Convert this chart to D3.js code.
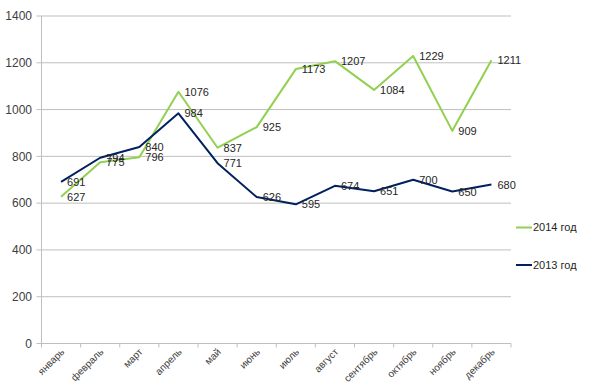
<!DOCTYPE html>
<html><head><meta charset="utf-8">
<script src="https://cdn.jsdelivr.net/npm/d3@7"></script>
<style>body{margin:0;background:#fff}svg{display:block}text{font-family:"Liberation Sans",Arial,sans-serif}</style>
</head><body>
<svg id="c" width="610" height="391"></svg>
<script>
const months = ["январь","февраль","март","апрель","май","июнь","июль","август","сентябрь","октябрь","ноябрь","декабрь"];
const series2014 = [627,775,796,1076,837,925,1173,1207,1084,1229,909,1211];
const series2013 = [691,794,840,984,771,626,595,674,651,700,650,680];
const yTicks = [0,200,400,600,800,1000,1200,1400];
const seriesNames = ["2014 год","2013 год"];
const colors = ["#92D050","#002060"];

(function(){
const svg = d3.select("#c");
const pl = 41.5, pr = 511, pt = 16, pb = 343.5;
const x = d3.scaleBand().domain(months).range([pl, pr]);
const y = d3.scaleLinear().domain([0,1400]).range([pb, pt]);

svg.append("g").selectAll("line").data(yTicks).join("line")
  .attr("x1", pl-5).attr("x2", pr).attr("y1", d=>y(d)).attr("y2", d=>y(d))
  .attr("stroke", "#BFBFBF").attr("stroke-width", 1);
svg.append("line").attr("x1", pl).attr("x2", pl).attr("y1", pt).attr("y2", pb)
  .attr("stroke", "#BFBFBF");
svg.append("g").selectAll("text").data(yTicks).join("text")
  .attr("x", 32).attr("y", d=>y(d)).attr("dy","0.35em").attr("text-anchor","end")
  .attr("font-size", 12).attr("fill","#404040").text(d=>d);
const xTickPos = months.map((m)=>x(m)).concat([pr]);
svg.append("g").selectAll("line").data(xTickPos).join("line")
  .attr("x1", d=>d).attr("x2", d=>d).attr("y1", pb).attr("y2", pb+4)
  .attr("stroke", "#BFBFBF");
svg.append("g").selectAll("text").data(months).join("text")
  .attr("transform", d=>`translate(${x(d)+x.bandwidth()/2+4},${pb+9}) rotate(-45)`)
  .attr("text-anchor","end").attr("font-size", 10).attr("fill","#404040").text(d=>d);

const line = d3.line().x((d,i)=>x(months[i])+x.bandwidth()/2).y(d=>y(d));
[series2014, series2013].forEach((s,k)=>{
  svg.append("path").datum(s).attr("d", line).attr("fill","none")
    .attr("stroke", colors[k]).attr("stroke-width", 2).attr("stroke-linejoin","round");
});
[series2014, series2013].forEach((s)=>{
  svg.append("g").selectAll("text").data(s).join("text")
    .attr("x",(d,i)=>x(months[i])+x.bandwidth()/2+6).attr("y", d=>y(d)).attr("dy","0.38em")
    .attr("font-size", 11).attr("fill","#262626").text(d=>d);
});
const legY = [227.5, 265];
seriesNames.forEach((n,k)=>{
  svg.append("line").attr("x1",516).attr("x2",532).attr("y1",legY[k]).attr("y2",legY[k])
    .attr("stroke",colors[k]).attr("stroke-width",2);
  svg.append("text").attr("x",533).attr("y",legY[k]).attr("dy","0.35em")
    .attr("font-size",11).attr("fill","#262626").text(n);
});
})();
</script>
</body></html>
